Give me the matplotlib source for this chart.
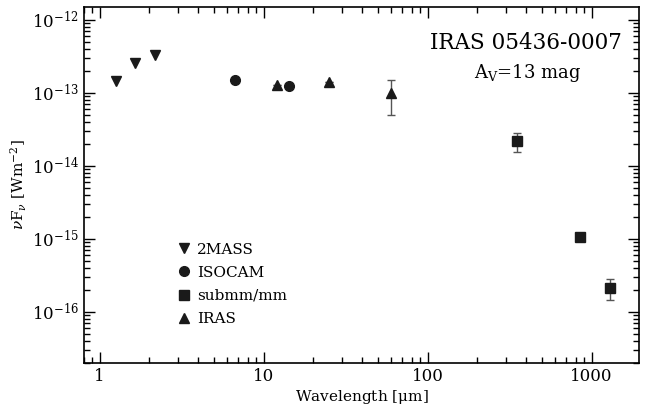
import numpy as np
import matplotlib
matplotlib.use("Agg")
import matplotlib.pyplot as plt

plt.rcParams['font.family'] = ['DejaVu Serif']
plt.rcParams['mathtext.fontset'] = 'dejavuserif'

# photometry of IRAS 05436-0007
twomass_wl = [1.25, 1.65, 2.17]
twomass_f = [1.45e-13, 2.55e-13, 3.25e-13]

isocam_wl = [6.7, 14.3]
isocam_f = [1.49e-13, 1.26e-13]

submm_wl = [350, 850, 1300]
submm_f = [2.2e-14, 1.05e-15, 2.15e-16]
submm_err = [0.65e-14, 0.1e-15, 0.67e-16]

iras_wl = [12, 25, 60]
iras_f = [1.3e-13, 1.41e-13, 1.0e-13]
iras_err = [0, 0, 0.5e-13]

col = '#1a1a1a'

fig = plt.figure(figsize=(6.45, 4.07), dpi=100)
ax = fig.add_axes([0.130, 0.108, 0.861, 0.875])

# error bars first, markers on top
ax.errorbar(submm_wl, submm_f, yerr=submm_err, fmt='none',
            ecolor='#555555', elinewidth=1, capsize=3)
ax.errorbar(iras_wl, iras_f, yerr=iras_err, fmt='none',
            ecolor='#555555', elinewidth=1, capsize=3)

ax.plot(twomass_wl, twomass_f, 'v', color=col, ms=7.5, ls='none', label='2MASS')
ax.plot(isocam_wl, isocam_f, 'o', color=col, ms=7, ls='none', label='ISOCAM')
ax.plot(submm_wl, submm_f, 's', color=col, ms=6.5, ls='none', label='submm/mm')
ax.plot(iras_wl, iras_f, '^', color=col, ms=7.5, ls='none', label='IRAS')

ax.set_xscale('log')
ax.set_yscale('log')
ax.set_xlim(0.8, 1950)
ax.set_ylim(2e-17, 1.5e-12)

ax.set_xticks([1, 10, 100, 1000])
ax.set_xticklabels(['1', '10', '100', '1000'])
ax.set_yticks([1e-16, 1e-15, 1e-14, 1e-13, 1e-12])
ax.set_yticklabels(['$10^{-16}$', '$10^{-15}$', '$10^{-14}$', '$10^{-13}$', '$10^{-12}$'])
ax.tick_params(which='both', direction='in', top=True, right=True, labelsize=12)
ax.tick_params(which='major', length=8, width=1)
ax.tick_params(which='minor', length=4, width=1)
for s in ax.spines.values():
    s.set_linewidth(1.2)

ax.set_xlabel(r'Wavelength [$\mathrm{\mu}$m]', fontsize=11, labelpad=2)
ax.set_ylabel(r'$\nu$F$_\nu$ [Wm$^{-2}$]', fontsize=11, labelpad=2)

ax.text(0.968, 0.90, 'IRAS 05436-0007', transform=ax.transAxes,
        ha='right', va='center', fontsize=15.5)
ax.text(0.80, 0.815, r'A$_\mathrm{V}$=13 mag', transform=ax.transAxes,
        ha='center', va='center', fontsize=13)

ax.legend(loc='lower left', bbox_to_anchor=(0.142, 0.065), frameon=False,
          fontsize=11, handletextpad=0.35, labelspacing=0.6, handlelength=1.0,
          numpoints=1)

fig.savefig('out.png', dpi=100)
